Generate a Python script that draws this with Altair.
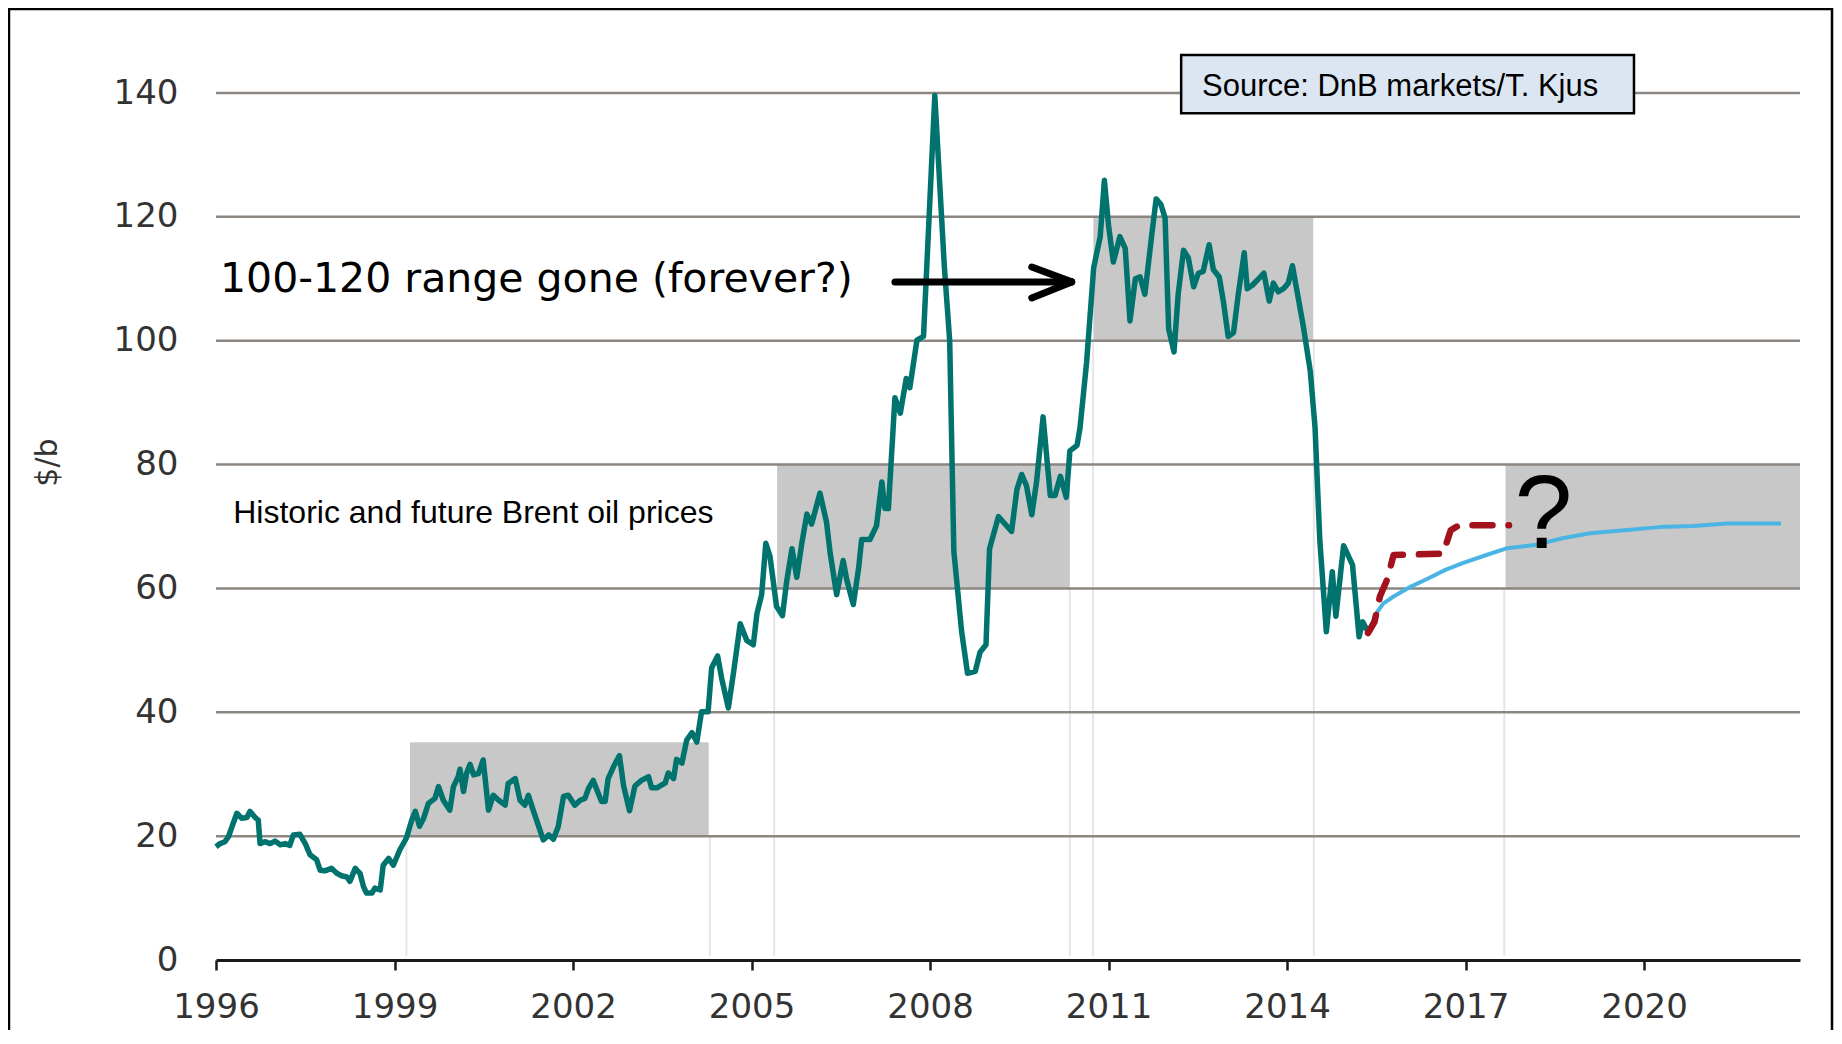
import altair as alt
import pandas as pd

# ---------------- data ----------------
hist_year = [
    1996.00, 1996.07, 1996.15, 1996.21, 1996.26, 1996.35, 1996.43, 1996.52, 1996.57, 1996.66,
    1996.71, 1996.74, 1996.82, 1996.91, 1996.99, 1997.08, 1997.16, 1997.24, 1997.30, 1997.41,
    1997.50, 1997.58, 1997.69, 1997.75, 1997.83, 1997.94, 1998.03, 1998.11, 1998.20, 1998.25,
    1998.34, 1998.42, 1998.48, 1998.53, 1998.62, 1998.67, 1998.76, 1998.81, 1998.90, 1998.98,
    1999.09, 1999.20, 1999.29, 1999.35, 1999.42, 1999.49, 1999.57, 1999.68, 1999.74, 1999.82,
    1999.93, 1999.99, 2000.07, 2000.10, 2000.16, 2000.21, 2000.27, 2000.33, 2000.41, 2000.49,
    2000.58, 2000.66, 2000.75, 2000.86, 2000.91, 2001.03, 2001.11, 2001.19, 2001.25, 2001.33,
    2001.50, 2001.59, 2001.67, 2001.75, 2001.84, 2001.92, 2002.03, 2002.12, 2002.20, 2002.26,
    2002.34, 2002.40, 2002.48, 2002.54, 2002.59, 2002.68, 2002.78, 2002.85, 2002.95, 2003.04,
    2003.15, 2003.27, 2003.32, 2003.41, 2003.55, 2003.60, 2003.69, 2003.74, 2003.83, 2003.91,
    2004.00, 2004.08, 2004.16, 2004.27, 2004.33, 2004.43, 2004.50, 2004.61, 2004.70, 2004.81,
    2004.92, 2005.03, 2005.09, 2005.17, 2005.24, 2005.31, 2005.42, 2005.52, 2005.59, 2005.68,
    2005.76, 2005.84, 2005.93, 2006.01, 2006.15, 2006.26, 2006.32, 2006.43, 2006.54, 2006.60,
    2006.71, 2006.80, 2006.85, 2006.99, 2007.10, 2007.19, 2007.24, 2007.30, 2007.41, 2007.50,
    2007.60, 2007.66, 2007.78, 2007.89, 2008.08, 2008.24, 2008.33, 2008.40, 2008.53, 2008.63,
    2008.76, 2008.84, 2008.94, 2009.00, 2009.15, 2009.26, 2009.37, 2009.46, 2009.54, 2009.62,
    2009.71, 2009.79, 2009.90, 2010.02, 2010.10, 2010.19, 2010.29, 2010.35, 2010.47, 2010.52,
    2010.63, 2010.75, 2010.86, 2010.93, 2011.00, 2011.08, 2011.19, 2011.28, 2011.36, 2011.45,
    2011.53, 2011.61, 2011.73, 2011.80, 2011.88, 2011.95, 2012.01, 2012.10, 2012.17, 2012.26,
    2012.34, 2012.43, 2012.51, 2012.59, 2012.69, 2012.76, 2012.86, 2012.93, 2013.01, 2013.10,
    2013.18, 2013.28, 2013.33, 2013.42, 2013.52, 2013.61, 2013.70, 2013.77, 2013.85, 2013.94,
    2014.02, 2014.09, 2014.16, 2014.27, 2014.39, 2014.47, 2014.55, 2014.66, 2014.76, 2014.82,
    2014.95, 2015.10, 2015.21, 2015.27, 2015.36,
]
hist_price = [
    18.3, 18.8, 19.1, 19.9, 21.3, 23.7, 22.9, 23.0, 24.0, 23.0,
    22.6, 18.8, 19.1, 18.8, 19.2, 18.6, 18.8, 18.5, 20.2, 20.3,
    18.8, 17.0, 16.2, 14.5, 14.4, 14.8, 14.0, 13.6, 13.4, 12.7,
    14.8, 14.0, 11.8, 10.8, 10.8, 11.6, 11.3, 15.3, 16.4, 15.3,
    17.8, 19.7, 22.6, 24.0, 21.6, 22.9, 25.3, 26.1, 28.0, 25.8,
    24.2, 28.0, 29.6, 30.8, 27.2, 30.1, 31.6, 29.9, 30.1, 32.3,
    24.2, 26.6, 25.8, 25.0, 28.5, 29.3, 25.8, 25.0, 26.6, 24.2,
    19.4, 20.2, 19.5, 21.5, 26.4, 26.6, 25.0, 25.8, 26.1, 27.7,
    29.0, 27.5, 25.6, 25.6, 29.3, 31.2, 33.0, 28.1, 24.1, 28.1,
    29.0, 29.6, 27.8, 27.8, 28.6, 30.2, 29.3, 32.4, 31.8, 35.5,
    36.7, 35.2, 40.1, 40.1, 47.2, 49.1, 45.4, 40.7, 46.6, 54.3,
    51.6, 50.9, 55.9, 59.0, 67.3, 65.2, 57.1, 55.6, 61.1, 66.4,
    61.8, 67.0, 72.0, 70.4, 75.4, 70.7, 65.8, 59.0, 64.5, 61.4,
    57.4, 63.3, 67.9, 67.9, 70.1, 77.2, 72.9, 72.9, 90.8, 88.3,
    93.9, 92.4, 100.1, 100.7, 139.6, 112.0, 100.0, 66.0, 53.1, 46.3,
    46.6, 49.7, 50.9, 66.4, 71.6, 70.4, 69.2, 76.0, 78.4, 76.6,
    71.9, 77.2, 87.7, 75.0, 75.0, 78.1, 74.7, 82.2, 83.1, 85.9,
    96.4, 111.8, 116.8, 125.9, 118.6, 112.7, 116.8, 114.9, 103.2, 110.0,
    110.3, 107.5, 117.4, 122.9, 122.0, 119.8, 101.9, 98.2, 107.5, 114.6,
    113.4, 108.7, 110.9, 111.2, 115.5, 111.5, 110.3, 106.3, 100.7, 101.3,
    107.5, 114.2, 108.4, 109.0, 110.0, 110.9, 106.4, 109.3, 107.9, 108.4,
    109.3, 112.1, 108.4, 102.5, 95.1, 86.0, 67.8, 53.0, 62.7, 55.5,
    66.9, 63.8, 52.2, 54.6, 53.0,
]

forward_year = [2015.36, 2015.50, 2015.62, 2015.79, 2016.08, 2016.37, 2016.66, 2016.95,
                2017.35, 2017.70, 2018.16, 2018.63, 2019.09, 2019.67, 2020.25, 2020.83,
                2021.40, 2022.30]
forward_price = [53.0, 56.0, 57.6, 58.7, 60.3, 61.6, 63.0, 64.1,
                 65.4, 66.5, 67.0, 68.1, 68.9, 69.4, 69.9, 70.1,
                 70.5, 70.5]

alt_year = [2015.36, 2015.47, 2015.56, 2015.68, 2015.79, 2016.62, 2016.75, 2016.89, 2017.73]
alt_price = [52.8, 54.6, 58.7, 61.4, 65.4, 65.6, 69.4, 70.2, 70.2]

zone_x1 = [1999.26, 2005.43, 2010.745, 2017.67]
zone_x2 = [2004.28, 2010.35, 2014.44, 2022.62]
zone_lo = [20, 60, 100, 60]
zone_hi = [35.15, 80, 120, 80]

edge_x = [1999.20, 2004.30, 2005.38, 2010.35, 2010.74, 2014.45, 2017.65]
edge_top = [20, 20, 58, 60, 100, 100, 60]

grid_values = [20, 40, 60, 80, 100, 120, 140]
x_ticks = [1996, 1999, 2002, 2005, 2008, 2011, 2014, 2017, 2020]
y_ticks = [0, 20, 40, 60, 80, 100, 120, 140]

arrow_x1 = [2007.41, 2009.71, 2009.71]
arrow_y1 = [109.5, 111.9, 106.9]
arrow_x2 = [2010.38, 2010.38, 2010.38]
arrow_y2 = [109.5, 109.5, 109.5]

source_text = "Source: DnB markets/T. Kjus"
source_box = dict(x=[2012.22], x2=[2019.83], y=[146.13], y2=[136.72])

# ---------------- scales & axes ----------------
xs = alt.Scale(domain=[1996, 2022.62], nice=False, zero=False)
ys = alt.Scale(domain=[0, 140], nice=False)

x_axis = alt.Axis(values=x_ticks, format="d", grid=False, domain=True,
                  domainColor="#1a1a1a", domainWidth=3, ticks=True,
                  tickColor="#1a1a1a", tickWidth=2.5, tickSize=10,
                  labelFont="DejaVu Sans", labelFontSize=34, labelColor="#333333",
                  labelPadding=20, labelFlush=False, title=None, zindex=1)
y_axis = alt.Axis(values=y_ticks, grid=False, domain=False, ticks=False, tickSize=0,
                  labelFont="DejaVu Sans", labelFontSize=34, labelColor="#333333",
                  labelPadding=38, title="$/b", titleFont="DejaVu Sans",
                  titleFontSize=30, titleFontWeight="normal", titleColor="#333333",
                  titleAngle=270, titleX=-169, titleY=369, titleAlign="center",
                  titleBaseline="middle")

X = alt.X("x:Q", scale=xs, axis=x_axis)
Y = alt.Y("y:Q", scale=ys, axis=y_axis)

# ---------------- layers ----------------
zones = alt.Chart(pd.DataFrame({"x": zone_x1, "x2": zone_x2, "y": zone_lo, "y2": zone_hi})).mark_rect(
    color="#c8c8c8").encode(x=X, x2="x2:Q", y=Y, y2="y2:Q")

edges = alt.Chart(pd.DataFrame({"x": edge_x, "y": [0.6] * len(edge_x), "y2": edge_top})).mark_rule(
    color="#e6e6e6", strokeWidth=2).encode(x=X, y=Y, y2="y2:Q")

grid = alt.Chart(pd.DataFrame({"y": grid_values})).mark_rule(
    color="#8c8681", strokeWidth=2.5).encode(y=Y)

box = alt.Chart(pd.DataFrame(source_box)).mark_rect(
    fill="#dce6f2", stroke="#000000", strokeWidth=2.5).encode(x=X, x2="x2:Q", y=Y, y2="y2:Q")

box_text = alt.Chart(pd.DataFrame({"x": [2012.57], "y": [139.56], "t": [source_text]})).mark_text(
    font="Liberation Sans", fontSize=31, align="left", baseline="alphabetic", color="#000000"
).encode(x=X, y=Y, text="t:N")

hist = alt.Chart(pd.DataFrame({"x": hist_year, "y": hist_price})).mark_line(
    color="#00736e", strokeWidth=5.5, strokeJoin="round").encode(x=X, y=Y)

forward = alt.Chart(pd.DataFrame({"x": forward_year, "y": forward_price})).mark_line(
    color="#4ab4e4", strokeWidth=4, strokeJoin="round").encode(x=X, y=Y)

altpath = alt.Chart(pd.DataFrame({"x": alt_year, "y": alt_price})).mark_line(
    color="#a3121c", strokeWidth=6.5, strokeDash=[20, 16], strokeCap="round",
    strokeJoin="round").encode(x=X, y=Y)

arrow = alt.Chart(pd.DataFrame({"x": arrow_x1, "y": arrow_y1, "x2": arrow_x2, "y2": arrow_y2})).mark_rule(
    color="#000000", strokeWidth=7, strokeCap="round").encode(x=X, y=Y, x2="x2:Q", y2="y2:Q")

headline = alt.Chart(pd.DataFrame({"x": [1996.067], "y": [107.9],
                                   "t": ["100-120 range gone (forever?)"]})).mark_text(
    font="DejaVu Sans", fontSize=41, align="left", baseline="alphabetic", color="#000000"
).encode(x=X, y=Y, text="t:N")

subtitle = alt.Chart(pd.DataFrame({"x": [1996.29], "y": [70.6],
                                   "t": ["Historic and future Brent oil prices"]})).mark_text(
    font="Liberation Sans", fontSize=32, align="left", baseline="alphabetic", color="#000000"
).encode(x=X, y=Y, text="t:N")

qmark = alt.Chart(pd.DataFrame({"x": [2018.31], "y": [66.5], "t": ["?"]})).mark_text(
    font="Liberation Sans", fontSize=104, align="center", baseline="alphabetic", color="#000000"
).encode(x=X, y=Y, text="t:N")

frame = alt.Chart(pd.DataFrame({"k": [0]})).mark_rect(
    fillOpacity=0, stroke="#000000", strokeWidth=2.5).encode(
    x=alt.value(-207), x2=alt.value(1616), y=alt.value(-84), y2=alt.value(1000))

chart = alt.layer(
    zones, edges, grid, box, box_text, hist, forward, altpath, arrow,
    headline, subtitle, qmark, frame
).properties(
    width=1584, height=867,
    padding={"left": 208, "top": 85, "right": 34, "bottom": 70},
    autosize=alt.AutoSizeParams(type="none"),
    background="white",
).configure_view(stroke=None)

chart.save("out.html", embed_options={"renderer": "svg", "actions": False})
